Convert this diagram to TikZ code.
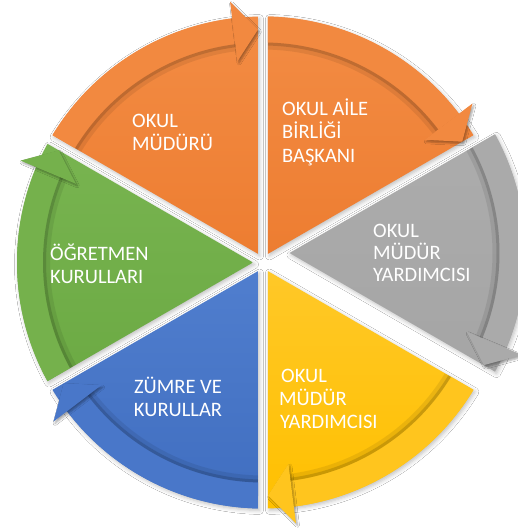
\documentclass[tikz,border=0pt]{standalone}
\usepackage{fontspec}
\setmainfont{Carlito}
\usetikzlibrary{shadows.blur}
\definecolor{orP}{RGB}{237,125,49}
\definecolor{orT}{RGB}{243,140,68}
\definecolor{orB}{RGB}{242,137,64}
\definecolor{grP}{RGB}{165,165,165}
\definecolor{grT}{RGB}{172,172,172}
\definecolor{grB}{RGB}{170,170,170}
\definecolor{yeP}{RGB}{255,192,0}
\definecolor{yeT}{RGB}{255,200,40}
\definecolor{yeB}{RGB}{255,197,30}
\definecolor{blP}{RGB}{64,110,192}
\definecolor{blT}{RGB}{80,126,206}
\definecolor{blB}{RGB}{73,119,201}
\definecolor{gnP}{RGB}{108,170,68}
\definecolor{gnT}{RGB}{120,180,80}
\definecolor{gnB}{RGB}{117,177,76}
\newcommand\cycpie[3]{%
  \path[top color=#3, bottom color=#2, pieshadow] ({#1+30}:10pt) -- ({#1+60-1.165}:246pt)
    arc[start angle={#1+60-1.165}, end angle={#1+1.165}, radius=246pt] -- cycle;}
\newcommand\cycband[2]{%
  \fill[#2] ({#1+60-1.302}:220pt) -- ({#1+60-1.165}:246pt)
    arc[start angle={#1+60-1.165}, end angle={#1+7}, radius=246pt]
    -- ({#1+7}:220pt)
    arc[start angle={#1+7}, end angle={#1+60-1.302}, radius=220pt] -- cycle;
  \draw[black, opacity=.08, line width=7pt] ({#1+7}:216.5pt)
    arc[start angle={#1+7}, end angle={#1+60-1.33}, radius=216.5pt];
  \draw[black, opacity=.14, line width=3pt] ({#1+7}:218.5pt)
    arc[start angle={#1+7}, end angle={#1+60-1.31}, radius=218.5pt];
  \path[fill=#2, headshadow] ({#1+7.2}:203pt) -- ({#1+1.23}:233pt) -- ({#1+7.2}:263pt) -- cycle;}
\begin{document}
\begin{tikzpicture}[x=1pt,y=1pt,
  pieshadow/.style={blur shadow={shadow xshift=1.5pt, shadow yshift=-2pt, shadow blur radius=4pt, shadow opacity=25}},
  headshadow/.style={blur shadow={shadow xshift=1.5pt, shadow yshift=-2pt, shadow blur radius=2pt, shadow opacity=35}},
  segtext/.style={text=white, font=\fontsize{20.5}{23}\selectfont, anchor=base west, inner sep=0pt}]
\useasboundingbox[fill=white] (-263,-268.5) rectangle (255,262.5);
\cycpie{90}{orP}{orT}
\cycpie{30}{orP}{orT}
\begin{scope}[shift={(16.5,9.5)}]
\cycpie{-30}{grP}{grT}
\end{scope}
\cycpie{-90}{yeP}{yeT}
\cycpie{-150}{blP}{blT}
\cycpie{150}{gnP}{gnT}
\cycband{90}{orB}
\cycband{30}{orB}
\begin{scope}[shift={(16.5,9.5)}]
\cycband{-30}{grB}
\end{scope}
\cycband{-90}{yeB}
\cycband{-150}{blB}
\cycband{150}{gnB}
% texts (image x - 263, 262.5 - image baseline)
\node[segtext] (t1a) at (-131,135.5) {OKUL};
\node[segtext] (t1b) at (-131,112.5) {MÜDÜRÜ};
\node[segtext] (t2a) at (19,147.5) {OKUL AİLE};
\node[segtext] (t2b) at (19,124.5) {BİRLİĞİ};
\node[segtext] (t2c) at (19,100.5) {BAŞKANI};
\node[segtext] (t3a) at (110,25.5) {OKUL};
\node[segtext] (t3b) at (110,3.5) {MÜDÜR};
\node[segtext] (t3c) at (110,-18.5) {YARDIMCISI};
\node[segtext] (t4a) at (18,-119.5) {OKUL};
\node[segtext] (t4b) at (16,-142.5) {MÜDÜR};
\node[segtext] (t4c) at (17,-165.5) {YARDIMCISI};
\node[segtext, anchor=base] (t5a) at (-85,-130.5) {ZÜMRE VE};
\node[segtext, anchor=base] (t5b) at (-85,-153.5) {KURULLAR};
\node[segtext] (t6a) at (-213,2.5) {ÖĞRETMEN};
\node[segtext] (t6b) at (-213,-20.5) {KURULLARI};
\end{tikzpicture}
\end{document}
